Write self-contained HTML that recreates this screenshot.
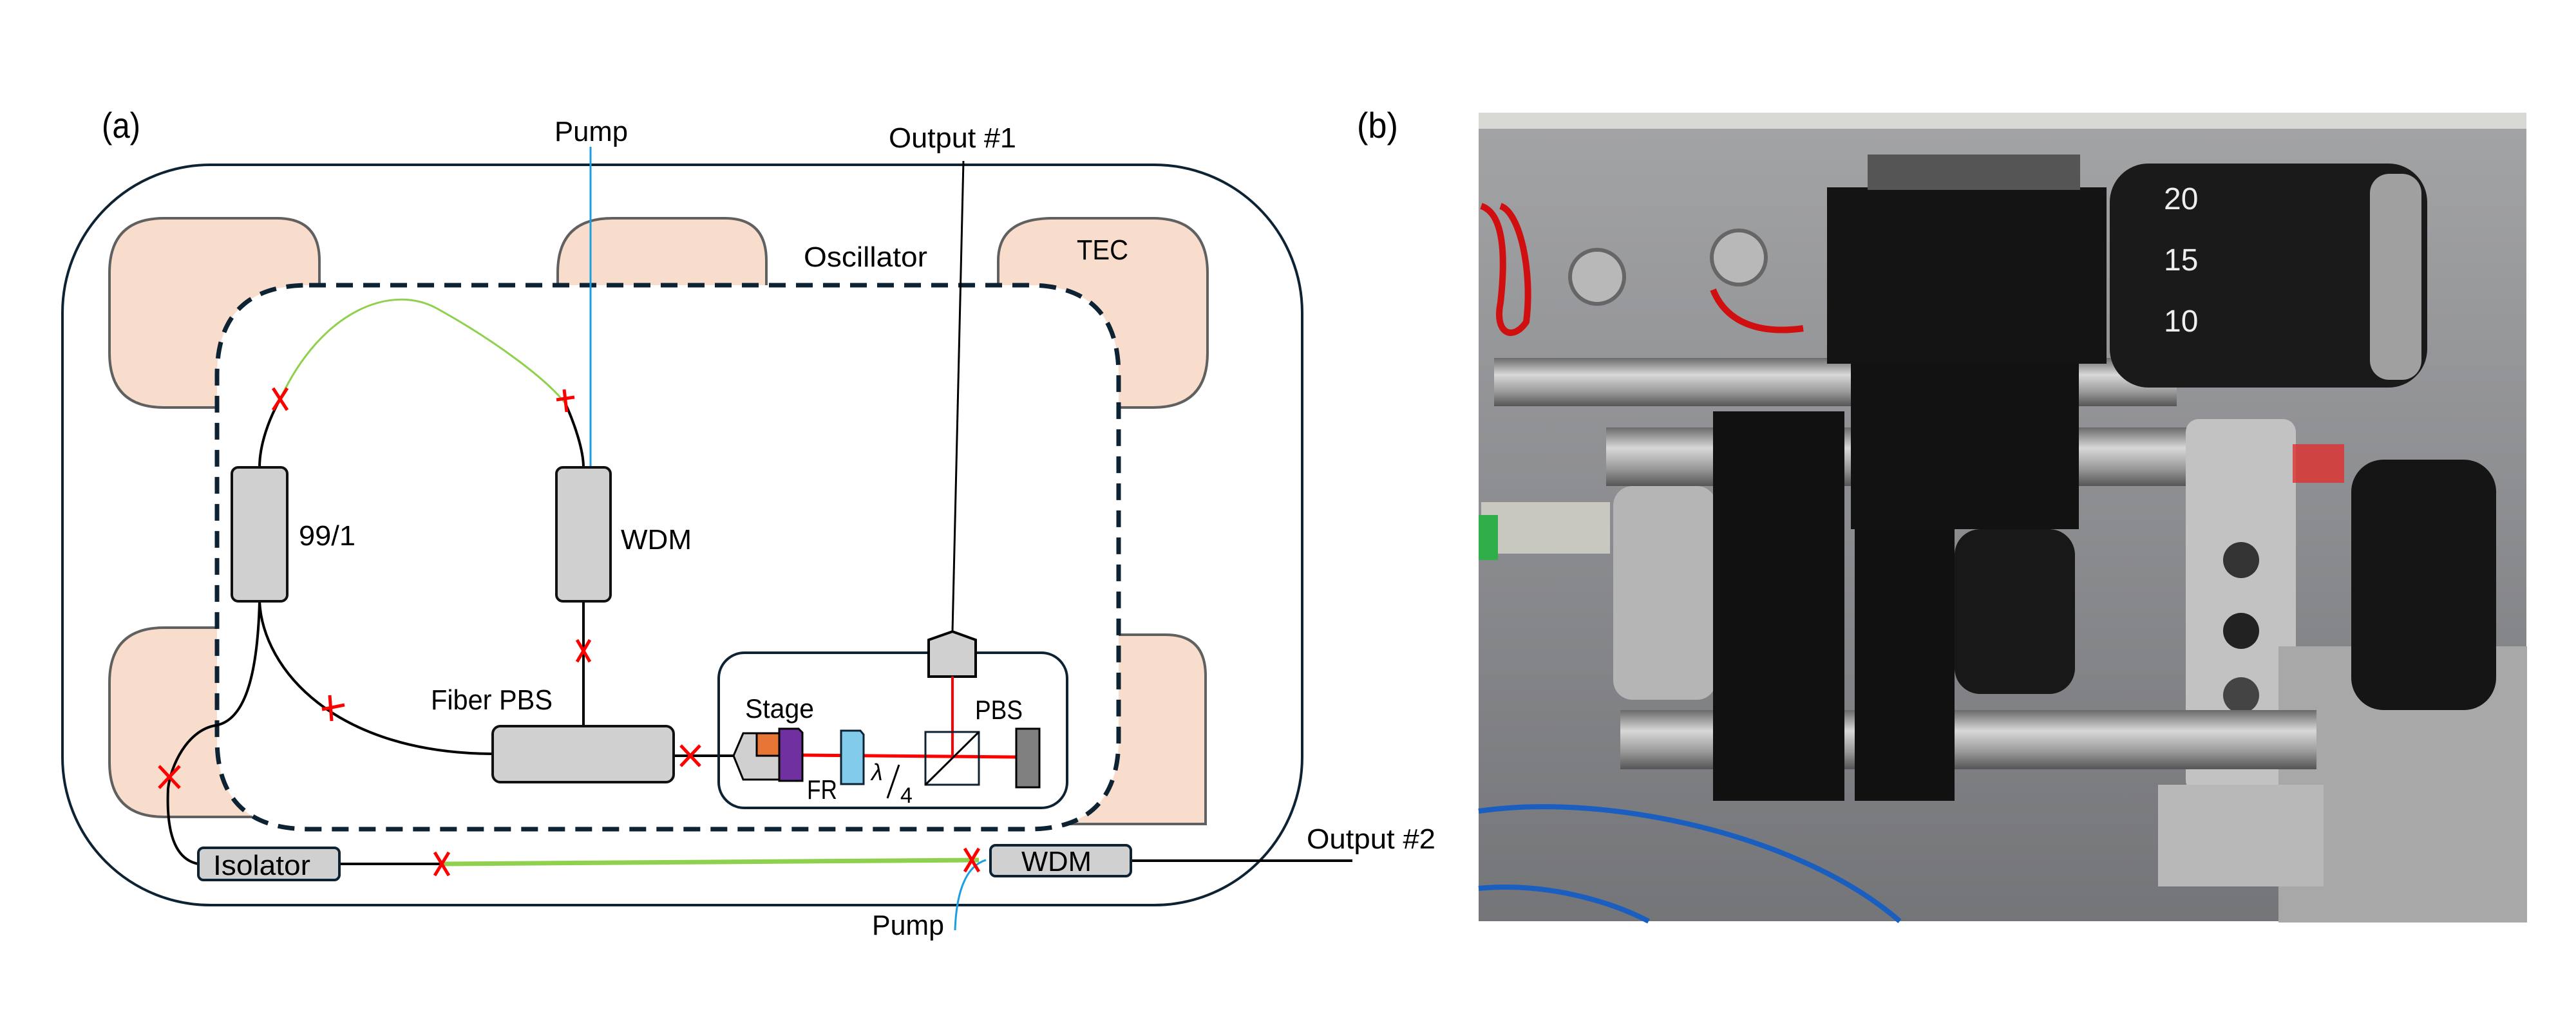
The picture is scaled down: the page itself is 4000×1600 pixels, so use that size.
<!DOCTYPE html>
<html><head><meta charset="utf-8"><style>
html,body{margin:0;padding:0;background:#fff;}
body{width:4000px;height:1600px;overflow:hidden;position:relative;}
svg{position:absolute;left:0;top:0;}
text{font-family:"Liberation Sans Narrow","Liberation Sans",sans-serif;fill:#000;}
</style></head><body>
<svg width="4000" height="1600" viewBox="0 0 4000 1600" xmlns="http://www.w3.org/2000/svg">
<!-- panel (a) -->
<text x="158" y="214" font-size="56" textLength="60" lengthAdjust="spacingAndGlyphs">(a)</text>
<text x="2107" y="214" font-size="56" textLength="64" lengthAdjust="spacingAndGlyphs">(b)</text>
<rect x="97" y="256" width="1925" height="1150" rx="230" ry="230" fill="none" stroke="#0d2233" stroke-width="4"/>
<!-- TEC pads -->
<g fill="#f8ddcc" stroke="#606060" stroke-width="4">
<path d="M255,339 H430 Q496,339 496,405 V633 H255 Q170,633 170,548 V424 Q170,339 255,339 Z"/>
<path d="M951,339 H1125 Q1190,339 1190,405 V600 H866 V424 Q866,339 951,339 Z"/>
<path d="M1635,339 H1790 Q1875,339 1875,424 V548 Q1875,633 1790,633 H1550 V405 Q1550,339 1635,339 Z"/>
<path d="M255,975 H500 V1269 H255 Q170,1269 170,1184 V1060 Q170,975 255,975 Z"/>
<path d="M1650,986 H1810 Q1872,986 1872,1050 V1280 H1650 Z"/>
</g>
<!-- dashed oscillator -->
<path d="M480,443 H1597 Q1737,443 1737,583 V1148 Q1737,1288 1597,1288 H480 Q337,1288 337,1148 V583 Q337,443 480,443 Z" fill="#fff" stroke="#0d2233" stroke-width="7" stroke-dasharray="26,16"/>
<text x="1248" y="414" font-size="44" textLength="192" lengthAdjust="spacingAndGlyphs">Oscillator</text>
<text x="1672" y="403" font-size="44" textLength="80" lengthAdjust="spacingAndGlyphs">TEC</text>
<!-- pump top -->
<text x="861" y="219" font-size="44" textLength="114" lengthAdjust="spacingAndGlyphs">Pump</text>
<line x1="917" y1="228" x2="917" y2="726" stroke="#1aa0e0" stroke-width="3"/>
<!-- output 1 -->
<text x="1380" y="229" font-size="44" textLength="198" lengthAdjust="spacingAndGlyphs">Output #1</text>
<line x1="1496" y1="250" x2="1479" y2="981" stroke="#000" stroke-width="3"/>
<!-- fibers -->
<g fill="none" stroke="#000" stroke-width="4">
<path d="M403,726 C403,690 418,650 435,620"/>
<path d="M878,627 C893,660 906,700 906,726"/>
<path d="M403,934 C408,1040 520,1170 765,1171"/>
<path d="M403,934 C400,1050 380,1120 334,1127 C290,1135 265,1190 261,1225 C258,1290 270,1335 308,1342"/>
<line x1="906" y1="934" x2="906" y2="1128"/>
<line x1="527" y1="1342" x2="686" y2="1342"/>
<line x1="1046" y1="1174" x2="1139" y2="1174"/>
<line x1="1756" y1="1337" x2="2100" y2="1337"/>
</g>
<path d="M435,620 C500,480 610,440 680,480 C770,530 850,590 878,627" fill="none" stroke="#8fd14f" stroke-width="3"/>
<line x1="686" y1="1342" x2="1520" y2="1336" stroke="#8fd14f" stroke-width="7"/>
<path d="M1483,1445 C1485,1385 1500,1345 1531,1336" fill="none" stroke="#1aa0e0" stroke-width="3"/>
<text x="1354" y="1452" font-size="44" textLength="112" lengthAdjust="spacingAndGlyphs">Pump</text>
<text x="2029" y="1318" font-size="44" textLength="200" lengthAdjust="spacingAndGlyphs">Output #2</text>
<!-- boxes -->
<g fill="#d0d0d0" stroke="#111" stroke-width="4">
<rect x="360" y="726" width="86" height="208" rx="10"/>
<rect x="864" y="726" width="84" height="208" rx="10"/>
<rect x="765" y="1128" width="281" height="87" rx="12"/>
</g>
<g fill="#d0d0d0" stroke="#0d2233" stroke-width="4">
<rect x="308" y="1317" width="219" height="50" rx="8"/>
<rect x="1538" y="1313" width="218" height="48" rx="8"/>
</g>
<text x="464" y="847" font-size="44" textLength="88" lengthAdjust="spacingAndGlyphs">99/1</text>
<text x="964" y="853" font-size="44" textLength="110" lengthAdjust="spacingAndGlyphs">WDM</text>
<text x="669" y="1102" font-size="44" textLength="189" lengthAdjust="spacingAndGlyphs">Fiber PBS</text>
<text x="331" y="1359" font-size="44" textLength="151" lengthAdjust="spacingAndGlyphs">Isolator</text>
<text x="1586" y="1353" font-size="44" textLength="109" lengthAdjust="spacingAndGlyphs">WDM</text>
<!-- free-space box -->
<rect x="1116" y="1014" width="541" height="241" rx="40" fill="none" stroke="#0d2233" stroke-width="4"/>
<polygon points="1442,994 1479,981 1515,994 1515,1051 1442,1051" fill="#d0d0d0" stroke="#000" stroke-width="4"/>
<line x1="1479" y1="1051" x2="1479" y2="1174" stroke="#f00" stroke-width="4"/>
<line x1="1246" y1="1173" x2="1580" y2="1176" stroke="#f00" stroke-width="5"/>
<polygon points="1154,1139 1211,1139 1211,1211 1154,1211 1139,1174" fill="#d0d0d0" stroke="#000" stroke-width="3"/>
<rect x="1175" y="1139" width="36" height="35" fill="#e87435" stroke="#000" stroke-width="3"/>
<path d="M1210,1132 H1240 L1246,1138 V1213 H1210 Z" fill="#7030a0" stroke="#000" stroke-width="3"/>
<path d="M1306,1135 H1336 L1341,1141 V1218 H1306 Z" fill="#83cbeb" stroke="#0d2233" stroke-width="3"/>
<rect x="1437" y="1137" width="83" height="82" fill="none" stroke="#0d2233" stroke-width="3"/>
<line x1="1437" y1="1219" x2="1520" y2="1137" stroke="#000" stroke-width="3"/>
<rect x="1578" y="1132" width="36" height="91" fill="#808080" stroke="#000" stroke-width="3"/>
<text x="1157" y="1115" font-size="42" textLength="107" lengthAdjust="spacingAndGlyphs">Stage</text>
<text x="1514" y="1117" font-size="42" textLength="74" lengthAdjust="spacingAndGlyphs">PBS</text>
<text x="1253" y="1241" font-size="42" textLength="47" lengthAdjust="spacingAndGlyphs">FR</text>
<text x="1353" y="1212" font-size="36" font-family="Liberation Serif,serif" font-style="italic">λ</text>
<line x1="1396" y1="1188" x2="1378" y2="1240" stroke="#000" stroke-width="3"/>
<text x="1398" y="1247" font-size="34" font-family="Liberation Serif,serif">4</text>
<!-- red X markers -->
<g stroke="#f00" stroke-width="5">
<path d="M424,603 L446,637 M446,603 L424,637"/>
<path d="M864,621 L892,617 M876,605 L880,640"/>
<path d="M896,994 L916,1028 M916,994 L896,1028"/>
<path d="M500,1102 L535,1095 M512,1080 L515,1120"/>
<path d="M247,1190 L279,1224 M279,1190 L247,1224"/>
<path d="M675,1324 L697,1360 M697,1324 L675,1360"/>
<path d="M1498,1318 L1520,1354 M1520,1318 L1498,1354"/>
<path d="M1057,1158 L1087,1190 M1087,1158 L1057,1190"/>
</g>
<!-- panel (b) photo approximation -->
<defs>
<linearGradient id="bg" x1="0" y1="0" x2="0" y2="1">
<stop offset="0" stop-color="#a3a4a6"/><stop offset="0.5" stop-color="#8c8d90"/><stop offset="1" stop-color="#747578"/>
</linearGradient>
<linearGradient id="rod" x1="0" y1="0" x2="0" y2="1">
<stop offset="0" stop-color="#6a6a6a"/><stop offset="0.35" stop-color="#d8d8d8"/><stop offset="0.7" stop-color="#9a9a9a"/><stop offset="1" stop-color="#555"/>
</linearGradient>
</defs>
<rect x="2296" y="175" width="1627" height="1256" fill="url(#bg)"/>
<rect x="2296" y="175" width="1627" height="25" fill="#d8d8d4"/>
<path d="M2300,320 C2330,330 2340,380 2330,470 C2320,520 2350,530 2370,500 C2380,420 2360,330 2330,320" fill="none" stroke="#d01010" stroke-width="10"/>
<path d="M2660,450 C2680,500 2730,520 2800,510" fill="none" stroke="#d01010" stroke-width="10"/>
<circle cx="2480" cy="430" r="42" fill="#b8b8b8" stroke="#666" stroke-width="6"/>
<circle cx="2700" cy="400" r="42" fill="#b8b8b8" stroke="#666" stroke-width="6"/>
<rect x="2320" y="556" width="1060" height="75" fill="url(#rod)"/>
<rect x="2494" y="664" width="910" height="91" fill="url(#rod)"/>
<rect x="2505" y="755" width="160" height="332" rx="30" fill="#b5b5b5"/>
<rect x="2300" y="780" width="200" height="80" fill="#c8c8c0"/>
<rect x="2296" y="800" width="30" height="70" fill="#2fae4a"/>
<rect x="3394" y="651" width="171" height="581" rx="20" fill="#c2c2c2"/>
<circle cx="3480" cy="870" r="28" fill="#333"/><circle cx="3480" cy="980" r="28" fill="#222"/><circle cx="3480" cy="1080" r="28" fill="#444"/>
<rect x="3538" y="1004" width="386" height="429" fill="#a8a8a8"/>
<rect x="3351" y="1219" width="257" height="158" fill="#b8b8b8"/>
<rect x="2516" y="1103" width="1081" height="92" fill="url(#rod)"/>
<rect x="2660" y="639" width="204" height="605" fill="#111"/>
<rect x="2837" y="291" width="434" height="274" fill="#141414"/>
<rect x="2874" y="565" width="354" height="257" fill="#121212"/>
<rect x="2880" y="822" width="155" height="422" fill="#111"/>
<rect x="3035" y="822" width="187" height="256" rx="40" fill="#181818"/>
<rect x="2900" y="240" width="330" height="55" fill="#555"/>
<rect x="3276" y="254" width="493" height="348" rx="60" fill="#1a1a1a"/>
<rect x="3680" y="270" width="80" height="320" rx="30" fill="#a0a0a0"/>
<text x="3360" y="325" font-size="48" fill="#eee" style="fill:#eee">20</text>
<text x="3360" y="420" font-size="48" style="fill:#eee">15</text>
<text x="3360" y="515" font-size="48" style="fill:#eee">10</text>
<rect x="3560" y="690" width="80" height="60" fill="#e03030" opacity="0.8"/>
<rect x="3651" y="714" width="225" height="389" rx="50" fill="#151515"/>
<path d="M2296,1260 C2500,1230 2800,1300 2950,1431" fill="none" stroke="#1a5fc0" stroke-width="8"/>
<path d="M2296,1380 C2400,1370 2500,1400 2560,1431" fill="none" stroke="#1a5fc0" stroke-width="8"/>
</svg>
</body></html>
